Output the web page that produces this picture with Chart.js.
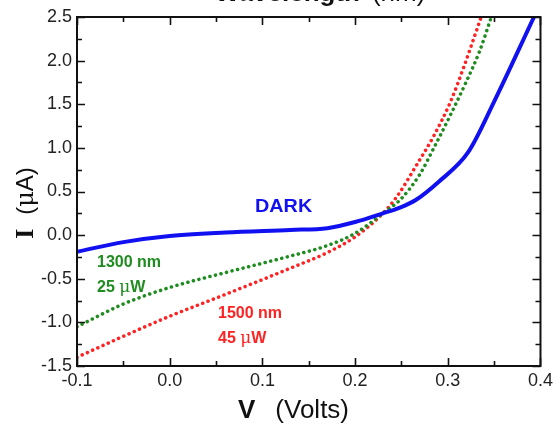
<!DOCTYPE html>
<html>
<head>
<meta charset="utf-8">
<script src="https://cdn.jsdelivr.net/npm/chart.js@4"></script>
<style>
  html, body { margin: 0; padding: 0; background: #fff; }
  #wrap { width: 557px; height: 426px; }
</style>
</head>
<body>
<div id="wrap"><canvas id="myChart" width="557" height="426"></canvas></div>
<script>
// I-V curves
const darkV = [-0.1, -0.05, 0.0, 0.06, 0.13, 0.17, 0.2, 0.23, 0.247, 0.265, 0.29, 0.322, 0.35, 0.393];
const darkI = [-0.19, -0.08, -0.01, 0.03, 0.06, 0.08, 0.15, 0.25, 0.31, 0.4, 0.61, 0.95, 1.53, 2.5];

const nm1300V = [-0.1, -0.05, 0.0, 0.06, 0.13, 0.17, 0.2, 0.23, 0.25, 0.27, 0.285, 0.303, 0.32, 0.334, 0.347];
const nm1300I = [-1.05, -0.79, -0.6, -0.43, -0.24, -0.12, 0.02, 0.25, 0.42, 0.7, 1.0, 1.38, 1.76, 2.1, 2.5];

const nm1500V = [-0.1, -0.05, 0.0, 0.06, 0.13, 0.17, 0.2, 0.23, 0.245, 0.265, 0.285, 0.303, 0.317, 0.336];
const nm1500I = [-1.4, -1.16, -0.93, -0.68, -0.38, -0.2, -0.02, 0.25, 0.44, 0.78, 1.14, 1.53, 1.92, 2.5];

const xTicks = [-0.1, 0.0, 0.1, 0.2, 0.3, 0.4];
const yTicks = [-1.5, -1.0, -0.5, 0.0, 0.5, 1.0, 1.5, 2.0, 2.5];

const BLUE = '#1010f0';
const GREEN = '#1e8c1e';
const RED = '#ff2222';

function toPoints(xs, ys) {
    return xs.map((x, i) => ({ x: x, y: ys[i] }));
}

// frame, inward ticks, labels and axis titles
const decorations = {
    id: 'decorations',
    afterDraw(chart) {
        const ctx = chart.ctx;
        const a = chart.chartArea;
        const xs = chart.scales.x;
        const ys = chart.scales.y;
        ctx.save();
        ctx.strokeStyle = '#111';
        ctx.lineWidth = 2;
        ctx.strokeRect(a.left, a.top, a.right - a.left, a.bottom - a.top);

        ctx.lineWidth = 1.6;
        ctx.beginPath();
        for (let v = -0.1; v <= 0.4001; v += 0.05) {
            const px = Math.round(xs.getPixelForValue(v)) + 0.5;
            const major = Math.abs(Math.round(v * 10) - v * 10) < 1e-6;
            const len = major ? 8 : 5;
            ctx.moveTo(px, a.bottom); ctx.lineTo(px, a.bottom - len);
            ctx.moveTo(px, a.top); ctx.lineTo(px, a.top + len);
        }
        for (let v = -1.5; v <= 2.5001; v += 0.25) {
            const py = Math.round(ys.getPixelForValue(v)) + 0.5;
            const major = Math.abs(Math.round(v * 2) - v * 2) < 1e-6;
            const len = major ? 8 : 5;
            ctx.moveTo(a.left, py); ctx.lineTo(a.left + len, py);
            ctx.moveTo(a.right, py); ctx.lineTo(a.right - len, py);
        }
        ctx.stroke();

        // curve labels
        ctx.textBaseline = 'alphabetic';
        ctx.textAlign = 'left';
        function label(parts, x, y, color) {
            ctx.fillStyle = color;
            let cx = x;
            parts.forEach(p => {
                ctx.font = p[1];
                ctx.fillText(p[0], cx, y);
                cx += ctx.measureText(p[0]).width + (p[2] || 0);
            });
        }
        const bold = 'bold 16px "Liberation Sans", Arial, sans-serif';
        const mu = '17px "DejaVu Serif", "Liberation Serif", serif';

        ctx.save();
        ctx.translate(255, 212);
        ctx.scale(1.1, 1);
        label([['DARK', 'bold 18px "Liberation Sans", Arial, sans-serif']], 0, 0, BLUE);
        ctx.restore();

        label([['1300 nm', bold]], 97, 267, GREEN);
        label([['25 ', bold], ['\u03bc', mu], ['W', bold]], 97, 292, GREEN);
        label([['1500 nm', bold]], 218, 318, RED);
        label([['45 ', bold], ['\u03bc', mu], ['W', bold]], 218, 343, RED);

        // axis titles
        const tFont = '26px "Liberation Sans", Arial, sans-serif';
        const tBold = 'bold 26px "Liberation Sans", Arial, sans-serif';
        label([['V', tBold, 20], ['(Volts)', tFont]], 238, 418, '#111');

        // top title, clipped by the canvas edge
        label([['Wavelength', tBold, 12], ['(nm)', tFont]], 215, 1, '#111');

        ctx.translate(33, 203);
        ctx.rotate(-Math.PI / 2);
        const iFont = 'bold 26px "Liberation Serif", "Times New Roman", serif';
        const pFont = '24px "Liberation Sans", Arial, sans-serif';
        const muFont = '24px "DejaVu Serif", "Liberation Serif", serif';
        ctx.font = iFont;
        const wi = ctx.measureText('I').width;
        ctx.font = pFont;
        const wp = ctx.measureText('(').width + ctx.measureText('A)').width;
        ctx.font = muFont;
        const wm = ctx.measureText('\u03bc').width;
        label([['I', iFont, 14], ['(', pFont], ['\u03bc', muFont], ['A)', pFont]], -(wi + 14 + wp + wm) / 2, 0, '#111');
        ctx.restore();
    }
};

const ctx = document.getElementById('myChart').getContext('2d');
const chart = new Chart(ctx, {
    type: 'line',
    data: {
        datasets: [
            {
                data: toPoints(darkV, darkI),
                borderColor: BLUE,
                borderWidth: 4,
                pointRadius: 0,
                cubicInterpolationMode: 'monotone'
            },
            {
                data: toPoints(nm1300V, nm1300I),
                borderColor: GREEN,
                borderWidth: 3.5,
                borderDash: [0.1, 5.6],
                borderCapStyle: 'round',
                pointRadius: 0,
                cubicInterpolationMode: 'monotone'
            },
            {
                data: toPoints(nm1500V, nm1500I),
                borderColor: RED,
                borderWidth: 3.5,
                borderDash: [0.1, 5.6],
                borderCapStyle: 'round',
                pointRadius: 0,
                cubicInterpolationMode: 'monotone'
            }
        ]
    },
    options: {
        responsive: false,
        animation: false,
        layout: {
            padding: { left: 0, right: 14, top: 17, bottom: 0 }
        },
        plugins: {
            legend: { display: false },
            tooltip: { enabled: false }
        },
        scales: {
            x: {
                type: 'linear',
                min: -0.1,
                max: 0.4,
                afterFit: function(scale) { scale.height = 60; },
                afterBuildTicks: function(scale) { scale.ticks = xTicks.map(v => ({ value: v })); },
                grid: { display: false, drawTicks: false },
                border: { display: false },
                ticks: {
                    padding: 4,
                    maxRotation: 0,
                    autoSkip: false,
                    color: '#222',
                    font: { family: '"Liberation Sans", Arial, sans-serif', size: 18 },
                    callback: v => v.toFixed(1)
                }
            },
            y: {
                type: 'linear',
                min: -1.5,
                max: 2.5,
                afterFit: function(scale) { scale.width = 77; },
                afterBuildTicks: function(scale) { scale.ticks = yTicks.map(v => ({ value: v })); },
                grid: { display: false, drawTicks: false },
                border: { display: false },
                ticks: {
                    padding: 5,
                    autoSkip: false,
                    color: '#222',
                    font: { family: '"Liberation Sans", Arial, sans-serif', size: 18 },
                    callback: v => v.toFixed(1)
                }
            }
        }
    },
    plugins: [decorations]
});
</script>
</body>
</html>
